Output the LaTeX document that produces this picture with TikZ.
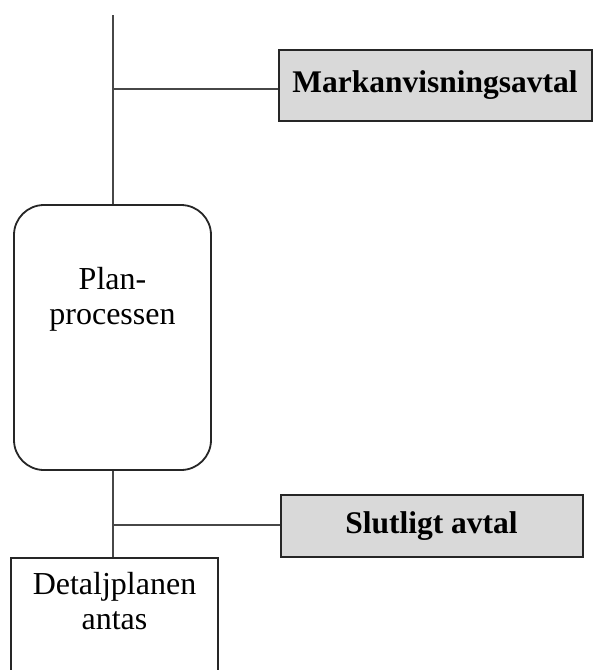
\documentclass[tikz,border=0pt]{standalone}
\usepackage{fontspec}
\setmainfont{Liberation Serif}
\begin{document}
\begin{tikzpicture}[x=1pt,y=-1pt,
  grey box/.style={draw=black!85, line width=2pt, fill=black!15, inner sep=0pt,
    font=\fontsize{31.5}{35}\selectfont\bfseries},
  white box/.style={draw=black!85, line width=1.8pt, fill=white, inner sep=0pt},
  round box/.style={white box, rounded corners=30pt},
  box text/.style={inner sep=0pt, anchor=north, align=center, font=\fontsize{32}{35}\selectfont},
  link/.style={draw=black!72, line width=1.7pt}]
\useasboundingbox (0,0) rectangle (593,670);
% boxes
\node[grey box, minimum width=313pt, minimum height=71pt] (mark) at (435,85) {Markanvisningsavtal};
\node[round box, minimum width=197pt, minimum height=265pt] (plan) at (112.5,337.5) {};
\node[grey box, minimum width=302pt, minimum height=62pt] (slut) at (431.5,526) {Slutligt avtal};
\node[white box, minimum width=207pt, minimum height=160pt] (detalj) at (114.5,638) {};
% texts
\node[box text] (plantext) at (112.5,267) {Plan-\\processen};
\node[box text] (detaljtext) at (114.5,572.5) {Detaljplanen\\antas};
% connectors
\coordinate (top) at (113,15);
\coordinate (j1) at (113,89);
\coordinate (j2) at (113,525);
\draw[link] (top) -- (plan.north -| top);
\draw[link] (j1) -- (mark.west |- j1);
\draw[link] (plan.south -| j2) -- (detalj.north -| j2);
\draw[link] (j2) -- (slut.west |- j2);
\end{tikzpicture}
\end{document}
